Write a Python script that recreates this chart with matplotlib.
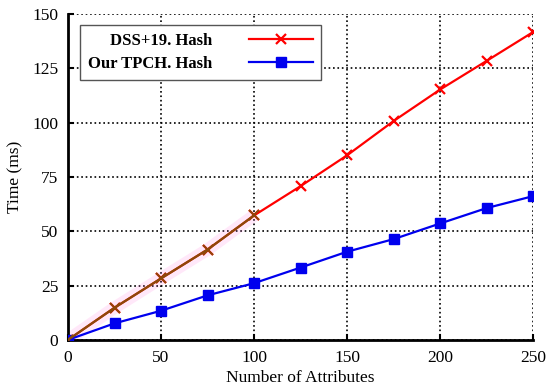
import numpy as np
import matplotlib.pyplot as plt

plt.rcParams['font.family'] = ['Liberation Serif', 'DejaVu Serif']

# data
attrs = [0, 25, 50, 75, 100, 125, 150, 175, 200, 225, 250]
dss_hash = [0, 14.8, 28.3, 41.6, 57.3, 70.8, 85.0, 100.8, 115.3, 128.5, 141.8]
tpch_hash = [0, 7.6, 13.4, 20.5, 26.1, 33.3, 40.6, 46.4, 53.6, 60.7, 66.2]

fig = plt.figure(figsize=(5.5, 3.92), dpi=100)
ax = fig.add_axes([0.1236, 0.133, 0.846, 0.831])

# faint pink highlight + brownish first part of the red curve (as in the original)
ax.plot(attrs[:5], dss_hash[:5], color='#ff66dd', lw=9, alpha=0.15,
        solid_capstyle='butt', zorder=2)
ax.plot(attrs, dss_hash, color='#ff0000', lw=1.6, marker='x', ms=7, mew=1.6,
        label='DSS+19. Hash', zorder=3)
ax.plot(attrs[:5], dss_hash[:5], color='#8b4a0a', lw=1.6, marker='x', ms=7,
        mew=1.3, zorder=4)
ax.plot(attrs, tpch_hash, color='#0000ee', lw=1.6, marker='s', ms=6.5,
        label='Our TPCH. Hash', zorder=3)

ax.set_xlim(0, 250)
ax.set_ylim(0, 150)
ax.set_xticks(np.arange(0, 251, 50))
ax.set_yticks(np.arange(0, 151, 25))
ax.grid(True, linestyle=':', color='black', lw=1.2)
ax.spines['top'].set_visible(False)
ax.spines['right'].set_visible(False)
ax.spines['left'].set_linewidth(2)
ax.spines['bottom'].set_linewidth(2)
ax.tick_params(direction='in', length=4, width=1.5, labelsize=12.5, pad=7)
ax.set_xlabel('Number of Attributes', fontsize=12.5, labelpad=3)
ax.set_ylabel('Time (ms)', fontsize=12.5, labelpad=6)

leg = ax.legend(loc='upper left', bbox_to_anchor=(80/550, 1 - 25/392),
                bbox_transform=fig.transFigure, markerfirst=False,
                prop={'weight': 'bold', 'size': 12}, fancybox=False,
                edgecolor='#555555', framealpha=1, handlelength=3.8,
                borderpad=0.5, labelspacing=0.4, handletextpad=2.2,
                borderaxespad=0)
leg.get_frame().set_linewidth(1)

fig.savefig('out.png', dpi=100)
